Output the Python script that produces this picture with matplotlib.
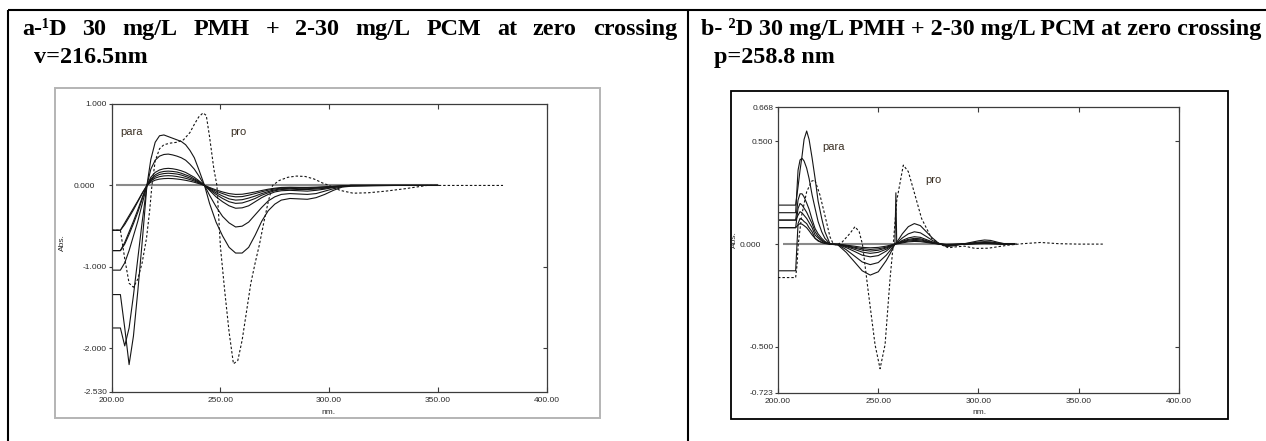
import matplotlib
matplotlib.use("Agg")
import matplotlib.pyplot as plt
import matplotlib.transforms as mtransforms

plt.rcParams['font.family'] = ['Liberation Sans', 'DejaVu Sans']

# ---------------- data ----------------
# panel a: first derivative, solid = mixtures, dashed = pro
wl_a = [200, 204, 206, 208, 210, 212, 214, 216.2, 218, 220, 222, 224, 226, 228,
        230, 232, 234, 236, 238, 240, 242.7, 245, 248, 251, 254, 257, 260, 263,
        266, 269, 272, 275, 278, 282, 286, 290, 294, 298, 302, 306, 310, 320,
        330, 340, 350]
a_c1 = [-0.55, -0.55, -0.46, -0.37, -0.28, -0.19, -0.095, 0, 0.04, 0.065, 0.078, 0.084, 0.086, 0.084,
        0.079, 0.072, 0.063, 0.052, 0.039, 0.023, 0, -0.025, -0.055, -0.08, -0.1, -0.11, -0.108, -0.095,
        -0.08, -0.062, -0.046, -0.034, -0.025, -0.022, -0.024, -0.024, -0.021, -0.016, -0.01, -0.005, 0, 0,
        0, 0, 0]
a_c2 = [-0.55, -0.55, -0.48, -0.39, -0.3, -0.2, -0.1, 0, 0.055, 0.09, 0.108, 0.117, 0.12, 0.117,
        0.11, 0.1, 0.088, 0.072, 0.054, 0.032, 0, -0.032, -0.07, -0.1, -0.128, -0.14, -0.137, -0.12,
        -0.1, -0.078, -0.058, -0.043, -0.032, -0.028, -0.03, -0.03, -0.027, -0.02, -0.012, -0.006, 0, 0,
        0, 0, 0]
a_c3 = [-0.8, -0.8, -0.7, -0.57, -0.44, -0.3, -0.15, 0, 0.07, 0.11, 0.135, 0.146, 0.15, 0.146,
        0.14, 0.128, 0.11, 0.09, 0.068, 0.04, 0, -0.04, -0.09, -0.13, -0.165, -0.18, -0.175, -0.155,
        -0.13, -0.1, -0.075, -0.055, -0.04, -0.035, -0.04, -0.04, -0.035, -0.028, -0.016, -0.008, 0, 0,
        0, 0, 0]
a_c4 = [-0.8, -0.8, -0.72, -0.6, -0.47, -0.33, -0.17, 0, 0.08, 0.13, 0.16, 0.172, 0.176, 0.172,
        0.165, 0.15, 0.13, 0.11, 0.08, 0.05, 0, -0.05, -0.11, -0.16, -0.2, -0.22, -0.215, -0.19,
        -0.16, -0.12, -0.09, -0.065, -0.05, -0.045, -0.05, -0.05, -0.045, -0.035, -0.02, -0.01, 0, 0,
        0, 0, 0]
a_c5 = [-1.04, -1.04, -0.95, -0.8, -0.62, -0.44, -0.23, 0, 0.1, 0.16, 0.19, 0.205, 0.21, 0.205,
        0.195, 0.18, 0.16, 0.13, 0.1, 0.06, 0, -0.06, -0.14, -0.2, -0.25, -0.28, -0.275, -0.25,
        -0.2, -0.15, -0.11, -0.08, -0.065, -0.06, -0.065, -0.07, -0.06, -0.045, -0.025, -0.01, 0, 0,
        0, 0, 0]
a_c6 = [-1.75, -1.75, -1.97, -1.75, -1.35, -0.9, -0.45, 0, 0.2, 0.31, 0.36, 0.38, 0.385, 0.375,
        0.36, 0.34, 0.31, 0.26, 0.2, 0.12, 0, -0.12, -0.26, -0.38, -0.46, -0.51, -0.5, -0.45,
        -0.36, -0.27, -0.19, -0.14, -0.11, -0.1, -0.105, -0.11, -0.1, -0.07, -0.04, -0.015, -0.005, 0,
        0, 0, 0]
a_c7 = [-1.34, -1.34, -1.75, -2.2, -1.85, -1.3, -0.7, 0, 0.32, 0.53, 0.61, 0.62, 0.6, 0.58,
        0.56, 0.54, 0.5, 0.43, 0.34, 0.2, 0, -0.22, -0.45, -0.62, -0.76, -0.83, -0.83, -0.76,
        -0.61, -0.44, -0.31, -0.23, -0.18, -0.16, -0.165, -0.17, -0.15, -0.11, -0.06, -0.02, -0.01, -0.005,
        0, 0, 0]
pro_wl_a = [200, 204, 206, 208, 210, 212, 214, 216, 217.5, 218.5, 220, 222, 224, 227, 230,
            233, 236, 238, 240, 242, 243.5, 245, 247, 248.4, 250, 252, 254, 256, 258, 260,
            262, 264, 266, 268, 270, 272, 274, 277, 281, 285, 289, 293, 297, 300, 305, 311,
            318, 326, 335, 345, 360, 380]
pro_a = [-0.55, -0.55, -0.9, -1.2, -1.25, -1.15, -0.95, -0.65, -0.3, 0, 0.3, 0.45, 0.5, 0.52, 0.53,
         0.56, 0.65, 0.75, 0.84, 0.89, 0.86, 0.6, 0.2, 0, -0.75, -1.3, -1.8, -2.19, -2.15, -1.9,
         -1.55, -1.2, -0.95, -0.72, -0.45, -0.2, 0, 0.06, 0.1, 0.115, 0.11, 0.08, 0.03, 0, -0.06, -0.095,
         -0.09, -0.07, -0.04, 0, 0, 0]
base_wl_a = [202, 350]
base_a = [0, 0]

# panel b: second derivative
wl_b = [200, 208.8, 210, 211, 212, 213, 214.3, 215.5, 217, 218.5, 220, 221.8, 223.4, 226,
        230, 234, 238, 242, 246, 250, 254, 256, 258.3, 258.8, 259.2, 260, 262, 265, 268,
        271, 274, 277, 280, 284, 288, 292, 296, 300, 303, 306, 310, 314, 318]
b_c1 = [0.08, 0.08, 0.093, 0.1, 0.097, 0.09, 0.08, 0.065, 0.045, 0.028, 0.015, 0.008, 0.003, 0,
        -0.001, -0.005, -0.01, -0.016, -0.018, -0.016, -0.01, -0.005, 0, 0.001, 0.001, 0.002, 0.006, 0.011, 0.013,
        0.012, 0.008, 0.004, 0.001, -0.002, -0.001, 0, 0.001, 0.002, 0.003, 0.002, 0.001, 0, 0]
b_c2 = [-0.13, -0.13, 0.1, 0.125, 0.12, 0.11, 0.1, 0.08, 0.06, 0.028, 0.018, 0.008, 0.004, 0,
        -0.001, -0.007, -0.015, -0.022, -0.026, -0.023, -0.015, -0.008, 0, 0.25, 0.01, 0.003, 0.009, 0.015, 0.018,
        0.016, 0.011, 0.005, 0.001, -0.002, -0.001, 0, 0.001, 0.003, 0.004, 0.003, 0.001, 0, 0]
b_c3 = [0.117, 0.117, 0.141, 0.158, 0.152, 0.14, 0.125, 0.105, 0.08, 0.044, 0.03, 0.015, 0.007, 0,
        -0.001, -0.009, -0.019, -0.029, -0.034, -0.03, -0.019, -0.01, 0, 0.001, 0.002, 0.004, 0.011, 0.019, 0.023,
        0.021, 0.014, 0.007, 0.001, -0.003, -0.002, 0, 0.002, 0.004, 0.005, 0.004, 0.002, 0, 0]
b_c4 = [0.08, 0.08, 0.174, 0.198, 0.19, 0.175, 0.155, 0.13, 0.1, 0.06, 0.038, 0.02, 0.01, 0,
        -0.002, -0.012, -0.025, -0.039, -0.045, -0.04, -0.025, -0.013, 0, 0.002, 0.003, 0.005, 0.014, 0.023, 0.028,
        0.026, 0.017, 0.008, 0.002, -0.004, -0.002, 0, 0.002, 0.005, 0.006, 0.005, 0.002, 0, 0]
b_c5 = [0.117, 0.117, 0.215, 0.245, 0.245, 0.23, 0.2, 0.17, 0.12, 0.076, 0.05, 0.028, 0.013, 0,
        -0.002, -0.017, -0.035, -0.054, -0.062, -0.056, -0.034, -0.018, 0, 0.002, 0.004, 0.007, 0.018, 0.03, 0.036,
        0.033, 0.022, 0.011, 0.002, -0.005, -0.003, 0, 0.003, 0.006, 0.008, 0.007, 0.003, 0, 0]
b_c6 = [0.153, 0.153, 0.36, 0.41, 0.418, 0.405, 0.37, 0.32, 0.24, 0.174, 0.11, 0.06, 0.028, 0,
        -0.003, -0.027, -0.057, -0.087, -0.1, -0.09, -0.054, -0.03, 0, 0.003, 0.006, 0.012, 0.03, 0.05, 0.06,
        0.055, 0.037, 0.018, 0.003, -0.008, -0.005, 0, 0.005, 0.01, 0.012, 0.011, 0.005, 0, 0]
b_c7 = [0.19, 0.19, 0.28, 0.36, 0.43, 0.51, 0.551, 0.51, 0.42, 0.32, 0.21, 0.125, 0.06, 0,
        -0.005, -0.04, -0.085, -0.13, -0.151, -0.135, -0.08, -0.045, 0, 0.005, 0.01, 0.02, 0.05, 0.085, 0.1,
        0.09, 0.06, 0.03, 0.005, -0.012, -0.008, 0, 0.008, 0.016, 0.02, 0.018, 0.008, 0, 0]
pro_wl_b = [200, 208.8, 209.5, 210.1, 211.8, 214.3, 216.8, 218.4, 220.9, 223.4, 225.9, 227.6,
            229.3, 232, 235.9, 238.4, 240.5, 242.1, 245, 248.4, 250.9, 253.4, 255.9, 257.5,
            259.2, 262.5, 265, 268.3, 271.6, 276.6, 280.8, 285, 289.1, 293, 298.3, 304.9,
            314.9, 322, 331, 340, 350, 362]
pro_b = [-0.163, -0.163, -0.1, 0, 0.14, 0.255, 0.307, 0.312, 0.24, 0.14, 0.036, 0,
         -0.004, 0.01, 0.052, 0.085, 0.06, 0, -0.23, -0.49, -0.607, -0.49, -0.167, 0,
         0.21, 0.385, 0.353, 0.24, 0.125, 0.028, 0, -0.018, -0.013, -0.01, -0.021, -0.02,
         -0.005, 0.002, 0.008, 0.002, 0, 0]
base_wl_b = [202.5, 319]
base_b = [0, 0]

x_ticks = [200, 250, 300, 350, 400]
x_labels = ['200.00', '250.00', '300.00', '350.00', '400.00']
a_yticks = [1.0, 0.0, -1.0, -2.0, -2.53]
a_ylabels = ['1.000', '0.000', '-1.000', '-2.000', '-2.530']
b_yticks = [0.668, 0.5, 0.0, -0.5, -0.723]
b_ylabels = ['0.668', '0.500', '0.000', '-0.500', '-0.723']

title_a1 = 'a-\u00b9D 30 mg/L PMH + 2-30 mg/L PCM at zero crossing'
title_a2 = 'v=216.5nm'
title_b1 = 'b- \u00b2D 30 mg/L PMH + 2-30 mg/L PCM at zero crossing'
title_b2 = 'p=258.8 nm'

# ---------------- figure in pixel coordinates ----------------
W, H = 1266, 441
fig = plt.figure(figsize=(W / 100, H / 100), dpi=100)
bg = fig.add_axes([0, 0, 1, 1])
bg.set_xlim(0, W)
bg.set_ylim(H, 0)
bg.axis('off')


def px_axes(x0, y0, x1, y1):
    return fig.add_axes([x0 / W, 1 - y1 / H, (x1 - x0) / W, (y1 - y0) / H])


# table lines
bg.plot([8, W], [10, 10], color='black', lw=1.5, solid_capstyle='butt')
bg.plot([8, 8], [10, H], color='black', lw=1.5, solid_capstyle='butt')
bg.plot([688, 688], [10, H], color='black', lw=1.5, solid_capstyle='butt')

# screenshot frames
bg.add_patch(plt.Rectangle((55, 88), 545, 330, fill=False, ec='#b4b4b4', lw=1.4))
bg.add_patch(plt.Rectangle((731, 91), 497, 328, fill=False, ec='black', lw=1.3))

tfont = dict(family='Liberation Serif', fontweight='bold', fontsize=17.4, color='black')
renderer = fig.canvas.get_renderer()

# justified first line of panel a
words = title_a1.split(' ')
wtexts = [bg.text(0, 35, w, va='baseline', ha='left', **tfont) for w in words]
widths = [t.get_window_extent(renderer).width for t in wtexts]
gap = (677 - 22 - sum(widths)) / (len(words) - 1)
xpos = 22
for t, w in zip(wtexts, widths):
    t.set_x(xpos)
    xpos += w + gap
bg.text(34, 63, title_a2, va='baseline', ha='left', **tfont)
bg.text(701, 35, title_b1, va='baseline', ha='left', **tfont)
bg.text(714, 63, title_b2, va='baseline', ha='left', **tfont)

small = dict(fontsize=6, color='#2a2a2a')


def spectrum(box, ylim, yticks, ylabels, rticks, curves, wl, pro_wl, pro, base_wl, base):
    ax = px_axes(*box)
    ax.plot(base_wl, base, color='#8a8a8a', lw=1.5, solid_capstyle='butt', zorder=1)
    for c in curves:
        ax.plot(wl, c, color='#151515', lw=0.8, zorder=2)
    ax.plot(pro_wl, pro, color='#151515', lw=0.8, dashes=(2.2, 1.8), zorder=3)
    ax.set_xlim(200, 400)
    ax.set_ylim(*ylim)
    ax.set_xticks(x_ticks, x_labels, **small)
    ax.set_yticks(yticks, ylabels, **small)
    ax.tick_params(axis='x', direction='in', top=True, length=3.5, width=0.8,
                   color='#3c3c3c', pad=4.2)
    ax.tick_params(axis='y', direction='out', length=2.5, width=0.8,
                   color='#3c3c3c', pad=0.8)
    sec = ax.secondary_yaxis('right')
    sec.set_yticks(rticks, ['' for _ in rticks])
    sec.tick_params(direction='in', length=3, width=0.8, color='#3c3c3c')
    sec.spines['right'].set_visible(False)
    for s in ax.spines.values():
        s.set_color('#3c3c3c')
        s.set_linewidth(0.9)
    # the zero label sits further left in the original
    off = mtransforms.ScaledTranslation(-12 / 100, 0, fig.dpi_scale_trans)
    for lab in ax.get_yticklabels():
        if lab.get_text() == '0.000':
            lab.set_transform(lab.get_transform() + off)
    return ax


ax_a = spectrum((111.7, 104, 546.5, 391.5), (-2.53, 1.0), a_yticks, a_ylabels,
                [-1.0, -2.0], [a_c1, a_c2, a_c3, a_c4, a_c5, a_c6, a_c7], wl_a,
                pro_wl_a, pro_a, base_wl_a, base_a)
ax_b = spectrum((778, 107, 1179, 392.5), (-0.723, 0.668), b_yticks, b_ylabels,
                [0.5, -0.5], [b_c1, b_c2, b_c3, b_c4, b_c5, b_c6, b_c7], wl_b,
                pro_wl_b, pro_b, base_wl_b, base_b)

lab = dict(fontsize=8, color='#3b3024')
ax_a.text(204, 0.62, 'para', **lab)
ax_a.text(254.5, 0.62, 'pro', **lab)
ax_b.text(222, 0.46, 'para', **lab)
ax_b.text(273.3, 0.3, 'pro', **lab)

bg.text(62, 243, 'Abs.', rotation=90, ha='center', va='center', **small)
bg.text(734, 240, 'Abs.', rotation=90, ha='center', va='center', **small)
bg.text(328, 413, 'nm.', ha='center', va='center', **small)
bg.text(979, 413, 'nm.', ha='center', va='center', **small)

fig.savefig('out.png', dpi=100)
